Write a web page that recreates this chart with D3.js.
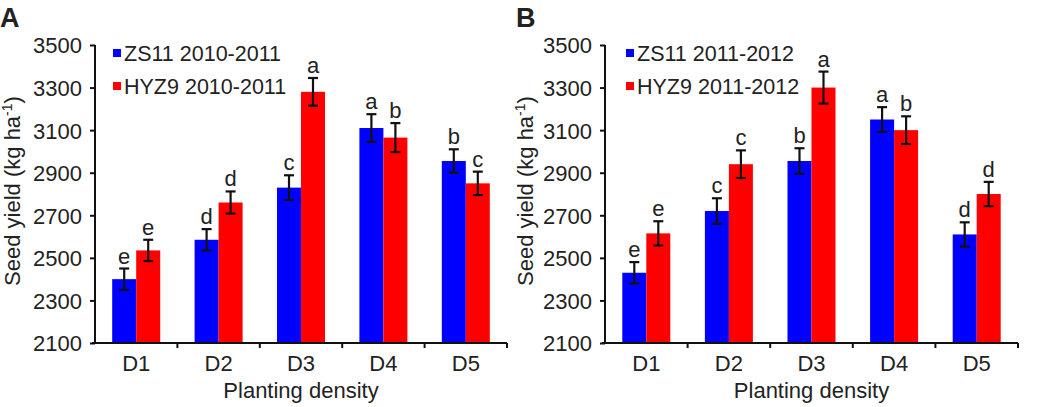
<!DOCTYPE html>
<html><head><meta charset="utf-8">
<script src="https://cdn.jsdelivr.net/npm/d3@7"></script>
<style>
html,body{margin:0;padding:0;background:#fff;}
text{font-family:"Liberation Sans",Arial,sans-serif;fill:#222;}
</style></head>
<body><svg id="c" width="1039" height="407"></svg>
<script>
const categories = ["D1","D2","D3","D4","D5"];
const yTicks = [2100,2300,2500,2700,2900,3100,3300,3500];
// Panel A (2010-2011)
const zs11A = [2400,2585,2830,3110,2955];
const zs11AErr = [50,50,58,65,55];
const zs11ALetters = ["e","d","c","a","b"];
const hyz9A = [2535,2760,3280,3065,2850];
const hyz9AErr = [50,52,65,68,55];
const hyz9ALetters = ["e","d","a","b","c"];
// Panel B (2011-2012)
const zs11B = [2430,2720,2955,3150,2610];
const zs11BErr = [50,60,60,58,57];
const zs11BLetters = ["e","c","b","a","d"];
const hyz9B = [2615,2940,3300,3100,2800];
const hyz9BErr = [57,65,75,65,57];
const hyz9BLetters = ["e","c","a","b","d"];
const seriesNamesA = ["ZS11 2010-2011","HYZ9 2010-2011"];
const seriesNamesB = ["ZS11 2011-2012","HYZ9 2011-2012"];
const colors = ["#0000ff","#ff0000"];

const svg = d3.select("#c");

function panel(opts){
  const {x0,x1,y0,y1,label,labelX,ylabX,names,vals,errs,lets,legX} = opts;
  const g = svg.append("g");
  const x = d3.scaleBand().domain(categories).range([x0,x1]).paddingInner(0).paddingOuter(0);
  const y = d3.scaleLinear().domain([2100,3500]).range([y1,y0]);
  const barW = 24;
  const series = [0,1];
  // bars
  series.forEach(s=>{
    categories.forEach((c,i)=>{
      const cx = x(c)+x.bandwidth()/2;
      const bx = cx - barW + s*barW;
      g.append("rect").attr("x",bx).attr("y",y(vals[s][i])).attr("width",barW)
        .attr("height",y(2100)-y(vals[s][i])).attr("fill",colors[s]);
      const ex = bx+barW/2;
      const top = y(vals[s][i]+errs[s][i]), bot = y(vals[s][i]-errs[s][i]);
      g.append("line").attr("x1",ex).attr("x2",ex).attr("y1",top).attr("y2",bot).attr("stroke","#111").attr("stroke-width",2.2);
      [top,bot].forEach(yy=>g.append("line").attr("x1",ex-5).attr("x2",ex+5).attr("y1",yy).attr("y2",yy).attr("stroke","#111").attr("stroke-width",2.2));
      g.append("text").attr("x",ex).attr("y",top-5).attr("text-anchor","middle")
        .style("font-size","22px").text(lets[s][i]);
    });
  });
  // y axis
  const ya = g.append("g").attr("transform",`translate(${x0},0)`)
    .call(d3.axisLeft(y).tickValues(yTicks).tickSize(5).tickPadding(8).tickFormat(d3.format("d")));
  ya.select(".domain").attr("stroke","#111").attr("stroke-width",2).attr("d",`M0,${y0}V${y1+1}`);
  ya.selectAll(".tick line").attr("stroke","#111").attr("stroke-width",2);
  ya.selectAll(".tick text").style("font-size","22px").attr("fill","#222").attr("dy","0.36em");
  // x axis
  const xa = g.append("g").attr("transform",`translate(0,${y1})`)
    .call(d3.axisBottom(x).tickSize(0).tickPadding(12));
  xa.select(".domain").attr("stroke","#111").attr("stroke-width",2).attr("d",`M${x0-3},0H${x1}`);
  xa.selectAll(".tick text").style("font-size","22px").attr("fill","#222");
  // separator ticks between categories
  categories.slice(1).forEach(c=>{
    xa.append("line").attr("x1",x(c)).attr("x2",x(c)).attr("y1",0).attr("y2",5).attr("stroke","#111").attr("stroke-width",2);
  });
  xa.append("line").attr("x1",x1).attr("x2",x1).attr("y1",0).attr("y2",5).attr("stroke","#111").attr("stroke-width",2);
  // axis titles
  g.append("text").attr("x",(x0+x1)/2).attr("y",398).attr("text-anchor","middle")
    .style("font-size","22px").text("Planting density");
  const yl = g.append("text").attr("transform",`translate(${ylabX},${(y0+y1)/2 - 3}) rotate(-90)`)
    .attr("text-anchor","middle").style("font-size","22px");
  yl.append("tspan").text("Seed yield (kg ha");
  yl.append("tspan").attr("dy","-8").style("font-size","14px").text("-1");
  yl.append("tspan").attr("dy","8").text(")");
  // legend
  names.forEach((n,i)=>{
    const ly = 53 + i*33;
    g.append("rect").attr("x",legX-4).attr("y",ly-4).attr("width",8).attr("height",8).attr("fill",colors[i]);
    g.append("text").attr("x",legX+7).attr("y",ly+8).style("font-size","21.5px").text(n);
  });
  // panel label
  svg.append("text").attr("x",labelX).attr("y",27).style("font-size","27px").style("font-weight","bold")
    .attr("fill","#000").text(label);
}

panel({x0:95,x1:507,y0:45,y1:343,label:"A",labelX:0,ylabX:20,
  names:seriesNamesA,vals:[zs11A,hyz9A],errs:[zs11AErr,hyz9AErr],lets:[zs11ALetters,hyz9ALetters],legX:117});
panel({x0:605,x1:1018,y0:45,y1:343,label:"B",labelX:516,ylabX:533,
  names:seriesNamesB,vals:[zs11B,hyz9B],errs:[zs11BErr,hyz9BErr],lets:[zs11BLetters,hyz9BLetters],legX:630});
</script></body></html>
